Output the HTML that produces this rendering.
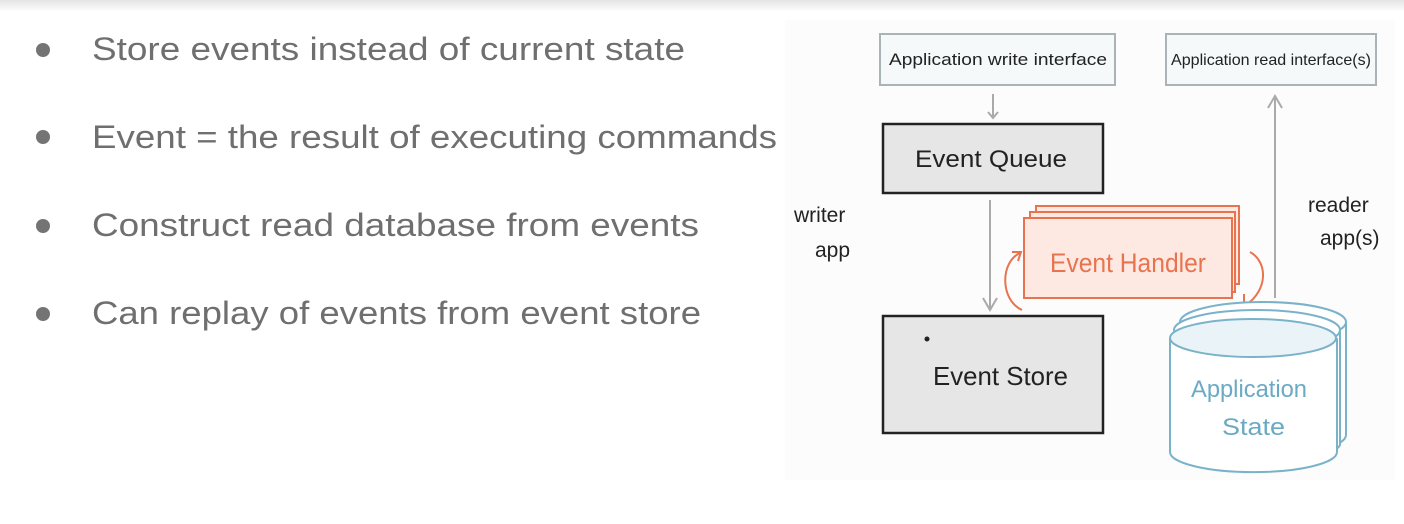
<!DOCTYPE html>
<html><head><meta charset="utf-8"><style>
html,body{margin:0;padding:0;background:#fff;}
svg{display:block;}
</style></head><body>
<svg width="1404" height="524" viewBox="0 0 1404 524" xmlns="http://www.w3.org/2000/svg">
<defs><linearGradient id="sh" x1="0" y1="0" x2="0" y2="1"><stop offset="0" stop-color="#e4e4e4"/><stop offset="1" stop-color="#fff"/></linearGradient></defs>
<rect x="0" y="0" width="1404" height="12" fill="url(#sh)"/>
<g fill="#747474">
<circle cx="43" cy="50" r="7"/><circle cx="43" cy="137" r="7"/><circle cx="43" cy="226" r="7"/><circle cx="43" cy="314" r="7"/>
</g>
<g font-family="Liberation Sans, sans-serif" font-size="32" fill="#6f6f6f">
<text x="92" y="60" textLength="593" lengthAdjust="spacingAndGlyphs">Store events instead of current state</text>
<text x="92" y="148" textLength="685" lengthAdjust="spacingAndGlyphs">Event = the result of executing commands</text>
<text x="92" y="236" textLength="607" lengthAdjust="spacingAndGlyphs">Construct read database from events</text>
<text x="92" y="324" textLength="609" lengthAdjust="spacingAndGlyphs">Can replay of events from event store</text>
</g>
<!-- diagram -->
<rect x="785" y="20" width="610" height="460" fill="#fcfcfc"/>
<rect x="880" y="34" width="235" height="51" fill="#f5f9fa" stroke="#aab4b6" stroke-width="2"/>
<rect x="1166" y="34" width="210" height="51" fill="#f5f9fa" stroke="#aab4b6" stroke-width="2"/>
<g font-family="Liberation Sans, sans-serif" fill="#222">
<text x="889" y="65" font-size="17" textLength="218" lengthAdjust="spacingAndGlyphs">Application write interface</text>
<text x="1171" y="65" font-size="16" textLength="200" lengthAdjust="spacingAndGlyphs">Application read interface(s)</text>
</g>
<g stroke="#aaa" stroke-width="2" fill="none">
<line x1="993" y1="94" x2="993" y2="118"/><polyline points="988,112 993,118 998,112"/>
<line x1="990" y1="200" x2="990" y2="310"/><polyline points="983,298 990,310 997,298"/>
<line x1="1275" y1="97" x2="1275" y2="298"/><polyline points="1268,108 1275,96 1282,108"/>
</g>
<rect x="883" y="124" width="220" height="69" fill="#e6e6e6" stroke="#222" stroke-width="2.5"/>
<text x="915" y="167" font-family="Liberation Sans, sans-serif" font-size="24" fill="#222" textLength="152" lengthAdjust="spacingAndGlyphs">Event Queue</text>
<g stroke="#e8734f" stroke-width="2" fill="#fde9e2">
<rect x="1036" y="206" width="203" height="78"/>
<rect x="1030" y="212" width="205" height="80"/>
<rect x="1024" y="218" width="208" height="80"/>
</g>
<text x="1050" y="272" font-family="Liberation Sans, sans-serif" font-size="27" fill="#e8734f" textLength="156" lengthAdjust="spacingAndGlyphs">Event Handler</text>
<g stroke="#e8734f" stroke-width="2" fill="none">
<path d="M1022,310 C1000,300 1000,262 1020,253"/><polyline points="1012,252 1021,252 1018,261"/>
<path d="M1250,252 C1268,262 1268,290 1246,305"/><polyline points="1244,294 1244,306 1255,305"/>
</g>
<rect x="883" y="316" width="220" height="117" fill="#e6e6e6" stroke="#222" stroke-width="2.5"/>
<circle cx="927" cy="339" r="2.5" fill="#222"/>
<text x="933" y="385" font-family="Liberation Sans, sans-serif" font-size="26" fill="#222" textLength="135" lengthAdjust="spacingAndGlyphs">Event Store</text>
<g stroke="#7ab3c9" stroke-width="2" fill="#fff">
<path d="M1180,322 L1180,435 A83,20 0 0 0 1346,435 L1346,322"/>
<ellipse cx="1263" cy="322" rx="83" ry="20" fill="#fff"/>
<path d="M1175,330 L1175,445 A83,20 0 0 0 1340,445 L1340,330"/>
<ellipse cx="1257" cy="330" rx="83" ry="20" fill="#fff"/>
<path d="M1170,338 L1170,452 A83,20 0 0 0 1337,452 L1337,338" fill="#fff"/>
<ellipse cx="1253" cy="338" rx="83" ry="19" fill="#eaf4f8"/>
</g>
<g font-family="Liberation Sans, sans-serif" fill="#6aaac4" font-size="24">
<text x="1191" y="397" textLength="116" lengthAdjust="spacingAndGlyphs">Application</text>
<text x="1222" y="435" textLength="63" lengthAdjust="spacingAndGlyphs">State</text>
</g>
<g font-family="Liberation Sans, sans-serif" fill="#222" font-size="21">
<text x="794" y="222">writer</text>
<text x="815" y="257">app</text>
<text x="1308" y="212">reader</text>
<text x="1320" y="245">app(s)</text>
</g>
</svg>
</body></html>
